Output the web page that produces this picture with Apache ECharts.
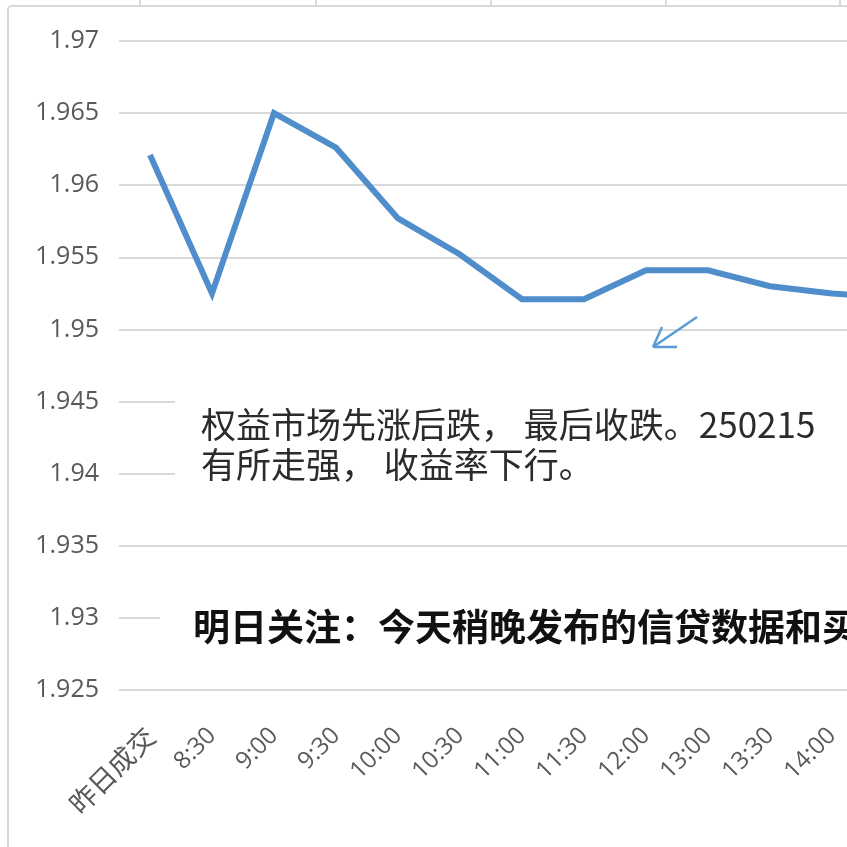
<!DOCTYPE html>
<html>
<head>
<meta charset="utf-8">
<script src="https://cdn.jsdelivr.net/npm/echarts@6/dist/echarts.min.js"></script>
<style>html,body{margin:0;padding:0;background:#fff;}#c{width:847px;height:847px;}</style>
</head>
<body>
<div id="c"></div>
<script>
var categories = ['昨日成交','8:30','9:00','9:30','10:00','10:30','11:00','11:30','12:00','13:00','13:30','14:00','14:30'];
var yields = [1.9621, 1.9525, 1.9650, 1.9626, 1.9577, 1.9552, 1.9521, 1.9521, 1.9541, 1.9541, 1.9530, 1.9525, 1.9522];
var yMin = 1.925, yMax = 1.97, yStep = 0.005;
var note1 = ['权益市场先涨后跌， 最后收跌。250215', '有所走强， 收益率下行。'];
var note2 = '明日关注：今天稍晚发布的信贷数据和买';

var chart = echarts.init(document.getElementById('c'), null, {renderer: 'canvas'});
var gridLine = '#D9D9D9';
var option = {
  animation: false,
  backgroundColor: '#fff',
  grid: {left: 119, top: 41, width: 806, height: 649, containLabel: false, outerBoundsMode: 'none'},
  xAxis: {
    type: 'category', data: categories, boundaryGap: true,
    axisLine: {show: false}, axisTick: {show: false},
    axisLabel: {rotate: 45, margin: 42, color: '#595959', fontSize: 24, showMaxLabel: true, hideOverlap: false,
      fontFamily: 'Open Sans, "Noto Sans CJK SC", sans-serif', interval: 0,
      formatter: function (v) { return /[\u4e00-\u9fff]/.test(v) ? '{c|' + v + '}' : v; },
      rich: {c: {fontSize: 27, color: '#595959', fontFamily: '"Noto Sans CJK SC", sans-serif'}}}
  },
  yAxis: {
    type: 'value', min: yMin, max: yMax, interval: yStep,
    axisLine: {show: false}, axisTick: {show: false},
    axisLabel: {margin: 20, color: '#595959', fontSize: 25, fontFamily: 'Open Sans, sans-serif'},
    splitLine: {lineStyle: {color: gridLine, width: 2}}
  },
  series: [{
    type: 'line', data: yields, symbol: 'none',
    lineStyle: {color: '#4F8DCB', width: 6, join: 'miter'},
    z: 5
  }],
  graphic: [
    {type: 'rect', z: 100, shape: {x: 175, y: 386, width: 700, height: 112}, style: {fill: '#fff'}},
    {type: 'rect', z: 100, shape: {x: 160, y: 592, width: 700, height: 56}, style: {fill: '#fff'}},
    {type: 'text', z: 101, left: 201, top: 405, style: {text: note1.join('\n'), fill: '#2b2b2b', fontSize: 35, lineHeight: 40,
      fontFamily: '"Noto Sans CJK SC", sans-serif'}},
    {type: 'text', z: 101, left: 193, top: 608, style: {text: note2, fill: '#111', fontSize: 37, fontWeight: 'bold',
      fontFamily: '"Noto Sans CJK SC", sans-serif'}},
    {type: 'line', z: 101, shape: {x1: 697, y1: 317, x2: 653, y2: 347}, style: {stroke: '#5B9BD5', lineWidth: 2.5}},
    {type: 'line', z: 101, shape: {x1: 653, y1: 347, x2: 662, y2: 327}, style: {stroke: '#5B9BD5', lineWidth: 2.5}},
    {type: 'line', z: 101, shape: {x1: 653, y1: 347, x2: 677, y2: 347}, style: {stroke: '#5B9BD5', lineWidth: 2.5}},
    {type: 'rect', z: 102, shape: {x: 8, y: 6, width: 900, height: 900, r: 4}, style: {fill: null, stroke: gridLine, lineWidth: 2}},
    {type: 'line', z: 102, shape: {x1: 140, y1: 0, x2: 140, y2: 6}, style: {stroke: gridLine, lineWidth: 2}},
    {type: 'line', z: 102, shape: {x1: 316, y1: 0, x2: 316, y2: 6}, style: {stroke: gridLine, lineWidth: 2}},
    {type: 'line', z: 102, shape: {x1: 491, y1: 0, x2: 491, y2: 6}, style: {stroke: gridLine, lineWidth: 2}},
    {type: 'line', z: 102, shape: {x1: 666, y1: 0, x2: 666, y2: 6}, style: {stroke: gridLine, lineWidth: 2}},
    {type: 'line', z: 102, shape: {x1: 840, y1: 0, x2: 840, y2: 6}, style: {stroke: gridLine, lineWidth: 2}}
  ]
};
chart.setOption(option);
</script>
</body>
</html>
